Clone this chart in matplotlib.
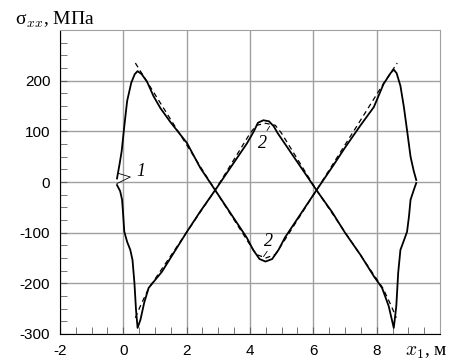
import matplotlib
matplotlib.use("Agg")
import matplotlib.pyplot as plt
from matplotlib.ticker import MultipleLocator, FixedLocator

plt.rcParams["mathtext.fontset"] = "cm"
plt.rcParams["axes.unicode_minus"] = False

# solid curve 1 (peaks ~220 near the ends, rounded bottom in the middle)
x_s1 = [-0.2, -0.12, -0.05, 0.03, 0.12, 0.25, 0.36, 0.45, 0.58, 0.75, 0.95, 1.17, 1.48, 2.01,
        2.43, 2.9, 3.9, 4.1, 4.3, 4.49, 4.7, 4.9, 5.1, 6.1, 6.6, 7.0, 7.49, 7.91, 8.22, 8.45,
        8.54, 8.63, 8.75, 8.86, 8.96, 9.07, 9.17, 9.25]
y_s1 = [7, 35, 62, 110, 160, 196, 213, 219, 213, 198, 170, 146, 119, 77,
        28, -16, -110, -134, -152, -157, -152, -134, -110, -16, 30, 68, 112, 148, 194, 216,
        222, 215, 190, 148, 102, 50, 22, 4]

# solid curve 2 (dips ~-290 near the ends, rounded top in the middle)
x_s2 = [-0.2, -0.1, -0.04, -0.01, 0.03, 0.12, 0.22, 0.29, 0.35, 0.40, 0.45, 0.54, 0.66, 0.80,
        1.01, 1.22, 2.01, 2.43, 2.9, 3.9, 4.12, 4.25, 4.42, 4.6, 4.75, 4.88, 6.1, 6.6, 7.0,
        7.49, 7.91, 8.17, 8.38, 8.54, 8.62, 8.68, 8.75, 8.88, 8.96, 9.02, 9.07, 9.17, 9.25]
y_s2 = [-6, -18, -35, -60, -98, -118, -134, -154, -199, -252, -288, -272, -238, -209,
        -193, -177, -98, -58, -16, 76, 100, 117, 122, 120, 110, 96, -16, -60, -100,
        -144, -186, -209, -245, -288, -245, -179, -134, -112, -98, -68, -35, -16, -2]

# dashed approximations
x_d1 = [0.38, 0.8, 1.5, 2.9, 4.0, 4.2, 4.5, 4.8, 5.0, 6.1, 7.5, 8.2, 8.65]
y_d1 = [235, 193, 123, -16, -124, -143, -150, -143, -124, -16, 123, 193, 235]
x_d2 = [0.38, 0.55, 0.8, 2.9, 4.0, 4.2, 4.5, 4.8, 5.0, 6.1, 8.2, 8.45, 8.62]
y_d2 = [-268, -243, -210, -16, 96, 112, 116, 112, 96, -16, -210, -243, -268]

x_ticks = [-2, 0, 2, 4, 6, 8]
y_ticks = [-300, -200, -100, 0, 100, 200]

fig = plt.figure(figsize=(4.58, 3.63), dpi=100)
ax = fig.add_axes([0.131, 0.080, 0.8297, 0.837])

ax.plot(x_s1, y_s1, color="black", lw=1.3, solid_joinstyle="round")
ax.plot(x_s2, y_s2, color="black", lw=1.3, solid_joinstyle="round")
ax.plot(x_d1, y_d1, color="black", lw=0.9, dashes=(4, 3))
ax.plot(x_d2, y_d2, color="black", lw=0.9, dashes=(4, 3))

# curve labels with leaders
ax.plot([-0.15, 0.22, -0.2], [17, 10, -3], color="black", lw=0.6)
ax.text(0.54, 20, "1", fontsize=13, style="italic", family="Liberation Serif",
        ha="center", va="center")
ax.plot([4.54, 4.62], [102, 110], color="black", lw=0.6)
ax.text(4.41, 76, "2", fontsize=13, style="italic", family="Liberation Serif",
        ha="center", va="center")
ax.plot([4.43, 4.54], [-147, -137], color="black", lw=0.6)
ax.text(4.59, -118, "2", fontsize=13, style="italic", family="Liberation Serif",
        ha="center", va="center")

ax.set_xlim(-2, 10)
ax.set_ylim(-300, 300)
ax.xaxis.set_major_locator(FixedLocator(x_ticks))
ax.yaxis.set_major_locator(FixedLocator(y_ticks))
ax.xaxis.set_minor_locator(MultipleLocator(0.5))
ax.yaxis.set_minor_locator(MultipleLocator(25))
ax.grid(True, which="major", color="#a0a0a0", lw=1)
ax.set_axisbelow(True)

ax.tick_params(which="both", direction="in", top=False, right=False, labelsize=11,
               pad=7, color="#606060", length=5)
for lab in ax.get_xticklabels() + ax.get_yticklabels():
    lab.set_family("Liberation Sans")

ax.spines["top"].set_color("#a0a0a0")
ax.spines["right"].set_color("#a0a0a0")
ax.spines["left"].set_color("black")
ax.spines["bottom"].set_color("black")

fig.text(0.033, 0.931, "σ$_{xx}$, МПа", fontsize=14, family="Liberation Serif",
         ha="left", va="baseline")
fig.text(0.884, 0.019, "$x_1$, м", fontsize=14, family="Liberation Serif",
         ha="left", va="baseline")

fig.savefig("out.png", dpi=100)
